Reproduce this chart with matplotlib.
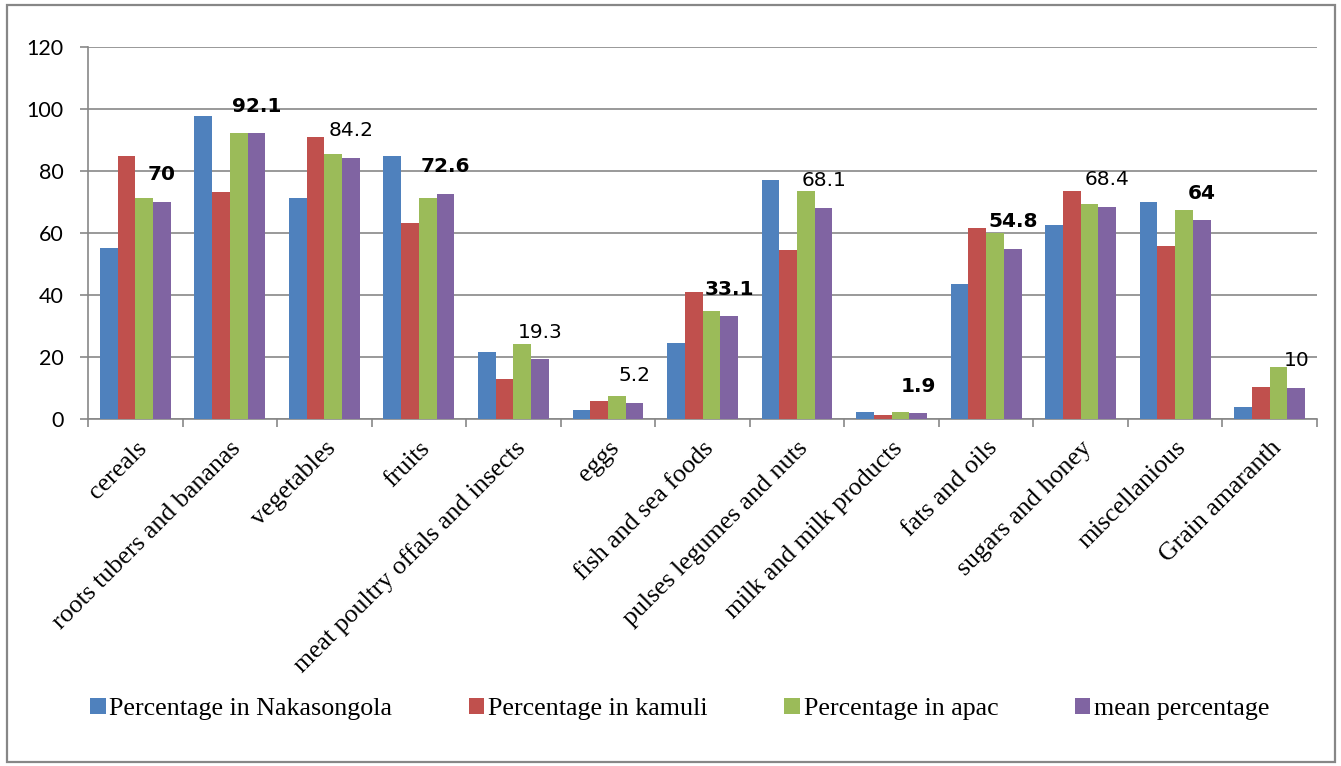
import matplotlib
matplotlib.use("Agg")
import matplotlib.pyplot as plt
from matplotlib.patches import Rectangle

# Food groups consumed, by district
categories = [
    "cereals", "roots tubers and bananas", "vegetables", "fruits",
    "meat poultry offals and insects", "eggs", "fish and sea foods",
    "pulses legumes and nuts", "milk and milk products", "fats and oils",
    "sugars and honey", "miscellanious", "Grain amaranth",
]

nakasongola = [55.0, 97.7, 71.2, 84.8, 21.6, 2.9, 24.5, 77.0, 2.3, 43.5, 62.5, 69.9, 3.9]
kamuli = [84.8, 73.2, 90.9, 63.2, 12.9, 5.8, 40.9, 54.5, 1.3, 61.5, 73.5, 55.7, 10.3]
apac = [71.2, 92.2, 85.4, 71.2, 24.2, 7.4, 34.8, 73.5, 2.3, 59.9, 69.3, 67.3, 16.8]
mean_pct = [70, 92.1, 84.2, 72.6, 19.3, 5.2, 33.1, 68.1, 1.9, 54.8, 68.4, 64, 10]

# which mean labels are shown in bold
bold_labels = [True, True, False, True, False, False, True, False, True, True, False, True, False]

series_names = [
    "Percentage in Nakasongola", "Percentage in kamuli",
    "Percentage in apac", "mean percentage",
]
colors = ["#4F81BD", "#C0504D", "#9BBB59", "#8064A2"]

GRID = "#878787"
SERIF = "Liberation Serif"


def plot_chart():

    fig = plt.figure(figsize=(13.41, 7.66), dpi=100)

    ax = fig.add_axes([88 / 1341, 347 / 766, 1229 / 1341, 372.3 / 766])

    series = [nakasongola, kamuli, apac, mean_pct]
    width = 0.1875
    x = list(range(len(categories)))

    for k, values in enumerate(series):
        pos = [i + (k - 1.5) * width for i in x]
        ax.bar(pos, values, width=width, color=colors[k],
               label=series_names[k], zorder=3)

    # value labels above the mean bars
    for i, v in enumerate(mean_pct):
        ax.annotate(
            f"{v:g}",
            (i + 1.5 * width, v),
            xytext=(0, 19.5),
            textcoords="offset points",
            ha="center",
            va="center",
            fontsize=14.5,
            family="DejaVu Sans",
            fontweight="bold" if bold_labels[i] else "normal",
            zorder=5,
        )

    ax.set_xlim(-0.5, len(categories) - 0.5)
    ax.set_ylim(0, 120)
    ax.set_yticks(range(0, 121, 20))

    ax.yaxis.grid(True, color=GRID, linewidth=1.2, zorder=0)

    for side in ["top", "right"]:
        ax.spines[side].set_visible(False)
    for side in ["left", "bottom"]:
        ax.spines[side].set_color(GRID)
        ax.spines[side].set_linewidth(1.2)

    ax.tick_params(axis="y", length=5.8, width=1.2, color=GRID, pad=12,
                   labelsize=15.5)
    for lbl in ax.get_yticklabels():
        lbl.set_family("Lato")

    # category boundaries as minor ticks, labels on the centres
    ax.set_xticks([i - 0.5 for i in range(len(categories) + 1)], minor=True)
    ax.set_xticks(x)
    ax.set_xticklabels(categories, rotation=45, ha="right",
                       rotation_mode="anchor", family=SERIF, fontsize=18.6)
    ax.tick_params(axis="x", which="major", length=0, pad=13)
    ax.tick_params(axis="x", which="minor", length=5.8, width=1.2, color=GRID)

    handles, labels = ax.get_legend_handles_labels()
    fig.legend(
        handles, labels,
        loc="center left",
        bbox_to_anchor=(90 / 1341, 57 / 766),
        ncol=4,
        frameon=False,
        prop={"family": SERIF, "size": 18.7},
        handlelength=0.6,
        handleheight=0.6,
        handletextpad=0.15,
        columnspacing=2.94,
        borderpad=0,
        borderaxespad=0,
    )

    # chart area border
    fig.patches.append(Rectangle(
        (7 / 1341, 4 / 766), 1328 / 1341, 757 / 766,
        transform=fig.transFigure, fill=False,
        edgecolor=GRID, linewidth=1.6,
    ))

    fig.savefig("out.png", dpi=100)


plot_chart()
